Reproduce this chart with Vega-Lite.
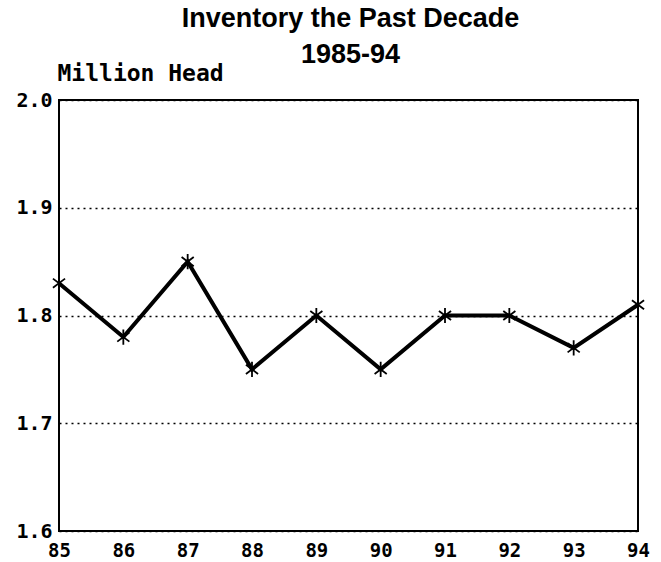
{
  "$schema": "https://vega.github.io/schema/vega-lite/v6.json",
  "width": 579,
  "height": 431,
  "autosize": "none",
  "padding": {"left": 59, "top": 100, "right": 23, "bottom": 31},
  "background": "white",
  "title": {
    "text": ["Inventory the Past Decade", "1985-94"],
    "font": "Liberation Sans",
    "fontSize": 27,
    "fontWeight": "bold",
    "color": "black",
    "anchor": "middle",
    "lineHeight": 36,
    "dx": 2,
    "dy": 17,
    "offset": 10
  },
  "data": {
    "values": [
      {"year": "85", "value": 1.83},
      {"year": "86", "value": 1.78},
      {"year": "87", "value": 1.85},
      {"year": "88", "value": 1.75},
      {"year": "89", "value": 1.80},
      {"year": "90", "value": 1.75},
      {"year": "91", "value": 1.80},
      {"year": "92", "value": 1.80},
      {"year": "93", "value": 1.77},
      {"year": "94", "value": 1.81}
    ]
  },
  "config": {
    "view": {"stroke": "black", "strokeWidth": 2},
    "axis": {
      "labelFont": "DejaVu Sans Mono",
      "labelFontWeight": "bold",
      "labelColor": "black",
      "ticks": false,
      "domain": false
    }
  },
  "encoding": {
    "x": {
      "field": "year",
      "type": "ordinal",
      "scale": {"type": "point", "padding": 0},
      "axis": {
        "title": null,
        "labelAngle": 0,
        "labelFontSize": 19,
        "labelPadding": 10,
        "grid": false
      }
    },
    "y": {
      "field": "value",
      "type": "quantitative",
      "scale": {"domain": [1.6, 2.0], "nice": false, "zero": false},
      "axis": {
        "values": [1.6, 1.7, 1.8, 1.9, 2.0],
        "format": ".1f",
        "labelFontSize": 20,
        "labelPadding": 7,
        "grid": true,
        "gridColor": "black",
        "gridDash": [2, 4],
        "gridWidth": 1.5,
        "gridOpacity": 1,
        "title": "Million Head",
        "titleFont": "DejaVu Sans Mono",
        "titleFontWeight": "bold",
        "titleFontSize": 23,
        "titleColor": "black",
        "titleAngle": 0,
        "titleAlign": "left",
        "titleBaseline": "alphabetic",
        "titleX": -2,
        "titleY": -20
      }
    }
  },
  "layer": [
    {
      "mark": {"type": "line", "color": "black", "strokeWidth": 4}
    },
    {
      "mark": {
        "type": "point",
        "shape": "M-0.8,-0.6L0.8,0.6M-0.8,0.6L0.8,-0.6M0,-1L0,1",
        "size": 230,
        "filled": false,
        "stroke": "black",
        "strokeWidth": 1.8,
        "opacity": 1
      }
    }
  ]
}
